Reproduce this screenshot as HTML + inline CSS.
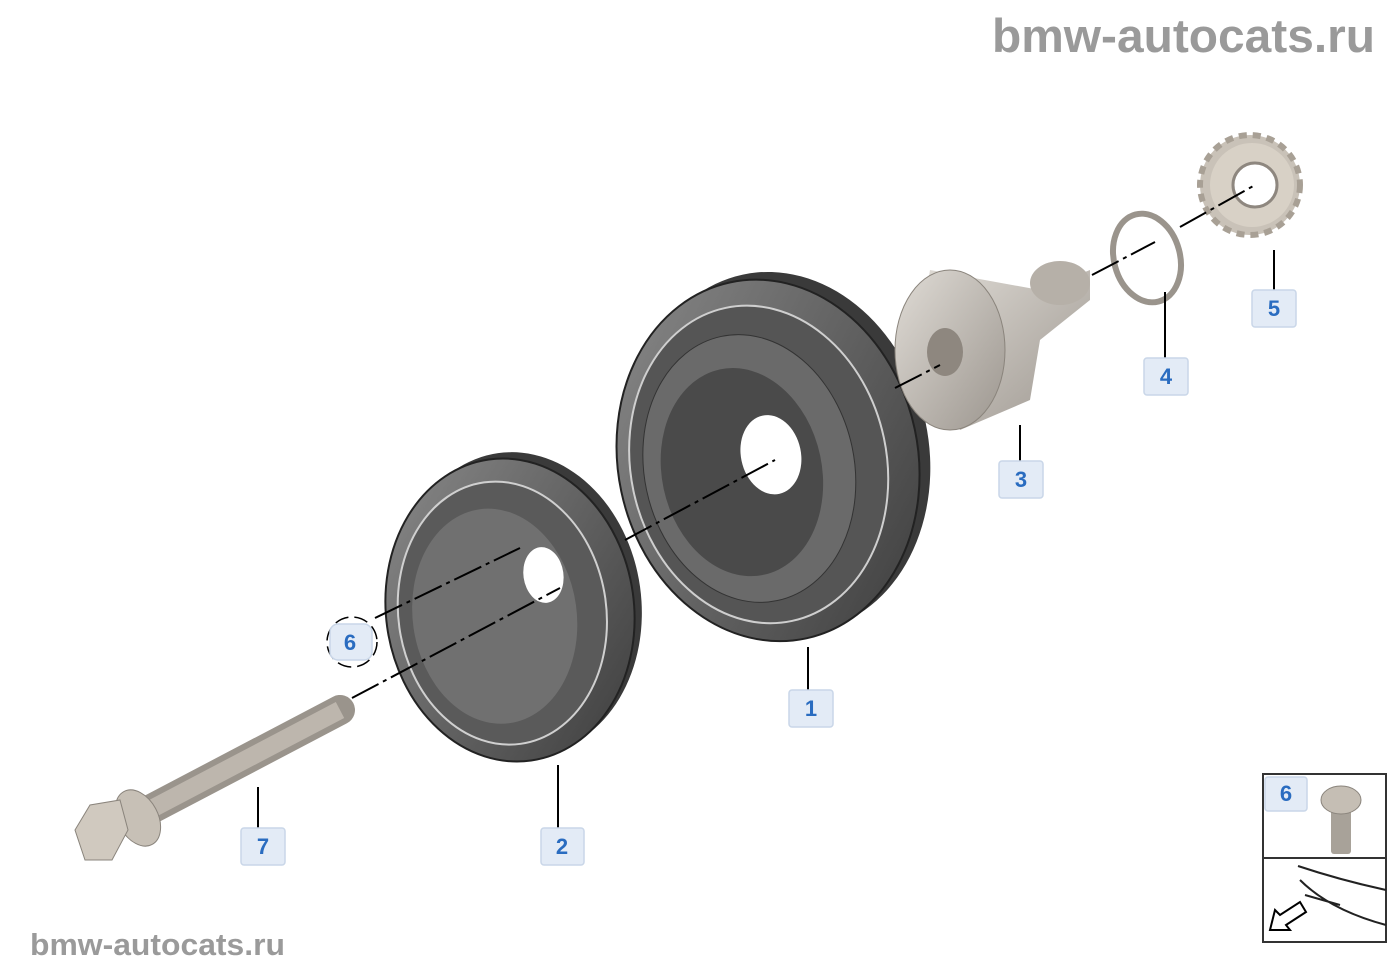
<!DOCTYPE html>
<html><head><meta charset="utf-8"><style>
html,body{margin:0;padding:0;background:#fff;width:1400px;height:980px;overflow:hidden}
svg{display:block}
.wm{font-family:"Liberation Sans",sans-serif;font-weight:bold;fill:#9a9a9a}
.lb{font-family:"Liberation Sans",sans-serif;font-weight:bold;fill:#2a6cc0;font-size:22px}
.box{fill:#e3ebf6;stroke:#c9d6e8;stroke-width:1.5}
</style></head><body>
<svg width="1400" height="980" viewBox="0 0 1400 980" xmlns="http://www.w3.org/2000/svg">
<defs>
<linearGradient id="g1" x1="0" y1="0" x2="1" y2="1"><stop offset="0" stop-color="#8a8a8a"/><stop offset="1" stop-color="#3c3c3c"/></linearGradient>
<linearGradient id="g2" x1="0" y1="0" x2="1" y2="1"><stop offset="0" stop-color="#e0dcd6"/><stop offset="1" stop-color="#9c968f"/></linearGradient>
</defs>
<text class="wm" x="992" y="52" font-size="47" textLength="383" lengthAdjust="spacingAndGlyphs">bmw-autocats.ru</text>
<text class="wm" x="30" y="955" font-size="31" textLength="255" lengthAdjust="spacingAndGlyphs">bmw-autocats.ru</text>

<!-- pulley 1 -->
<g transform="rotate(-12 770 460)">
<ellipse cx="782" cy="455" rx="148" ry="182" fill="#3a3a3a"/>
<ellipse cx="768" cy="460" rx="150" ry="182" fill="url(#g1)" stroke="#222" stroke-width="2"/>
<ellipse cx="758" cy="462" rx="128" ry="160" fill="#555" stroke="#cfcfcf" stroke-width="2"/>
<ellipse cx="748" cy="464" rx="105" ry="135" fill="#6a6a6a" stroke="#333"/>
<ellipse cx="740" cy="466" rx="80" ry="105" fill="#4a4a4a"/>
<ellipse cx="772" cy="455" rx="30" ry="40" fill="#fff"/>
</g>
<!-- pulley 2 -->
<g transform="rotate(-8 510 610)">
<ellipse cx="520" cy="605" rx="122" ry="152" fill="#3a3a3a"/>
<ellipse cx="510" cy="610" rx="124" ry="152" fill="url(#g1)" stroke="#222" stroke-width="2"/>
<ellipse cx="502" cy="612" rx="104" ry="132" fill="#5a5a5a" stroke="#d0d0d0" stroke-width="2"/>
<ellipse cx="494" cy="614" rx="82" ry="108" fill="#707070"/>
<ellipse cx="548" cy="580" rx="20" ry="28" fill="#fff"/>
</g>
<!-- hub 3 -->
<polygon points="930,270 1040,290 1090,270 1090,300 1040,340 1030,400 960,430 920,330" fill="url(#g2)"/>
<ellipse cx="1060" cy="283" rx="30" ry="22" fill="#b6b0a8"/>
<ellipse cx="950" cy="350" rx="55" ry="80" fill="url(#g2)" stroke="#8a847c"/>
<ellipse cx="945" cy="352" rx="18" ry="24" fill="#8e877f"/>
<!-- ring 4 -->
<ellipse cx="1147" cy="258" rx="33" ry="45" transform="rotate(-15 1147 258)" fill="none" stroke="#9a948c" stroke-width="6"/>
<!-- sprocket 5 -->
<circle cx="1250" cy="185" r="50" fill="#c9c2b8" stroke="#a8a095" stroke-width="6" stroke-dasharray="8 6"/>
<circle cx="1252" cy="185" r="42" fill="#d8d1c6"/>
<circle cx="1255" cy="185" r="22" fill="#fff" stroke="#8e877f" stroke-width="3"/>
<!-- bolt 7 -->
<line x1="140" y1="815" x2="340" y2="710" stroke="#9a948c" stroke-width="30" stroke-linecap="round"/>
<line x1="140" y1="815" x2="340" y2="710" stroke="#bdb6ad" stroke-width="18"/>
<ellipse cx="138" cy="818" rx="20" ry="30" transform="rotate(-28 138 818)" fill="#c7c0b6" stroke="#8a847c"/>
<polygon points="75,830 90,805 120,800 128,830 112,860 85,860" fill="#d0c9bf" stroke="#8a847c"/>
<!-- axis lines -->
<g stroke="#000" stroke-width="2" stroke-dasharray="30 5 4 5" fill="none">
<line x1="352" y1="698" x2="560" y2="588"/>
<line x1="375" y1="618" x2="520" y2="548"/>
<line x1="625" y1="540" x2="775" y2="460"/>
<line x1="895" y1="388" x2="940" y2="365"/>
<line x1="1092" y1="275" x2="1155" y2="242"/>
<line x1="1180" y1="227" x2="1255" y2="185"/>
</g>
<!-- leaders -->
<g stroke="#000" stroke-width="2">
<line x1="808" y1="647" x2="808" y2="690"/>
<line x1="558" y1="765" x2="558" y2="828"/>
<line x1="1020" y1="425" x2="1020" y2="461"/>
<line x1="1165" y1="292" x2="1165" y2="358"/>
<line x1="1274" y1="250" x2="1274" y2="290"/>
<line x1="258" y1="787" x2="258" y2="828"/>
</g>
<rect class="box" x="789" y="690" width="44" height="37" rx="3"/><text class="lb" x="811" y="716" text-anchor="middle">1</text>
<rect class="box" x="541" y="828" width="43" height="37" rx="3"/><text class="lb" x="562" y="854" text-anchor="middle">2</text>
<rect class="box" x="999" y="461" width="44" height="37" rx="3"/><text class="lb" x="1021" y="487" text-anchor="middle">3</text>
<rect class="box" x="1144" y="358" width="44" height="37" rx="3"/><text class="lb" x="1166" y="384" text-anchor="middle">4</text>
<rect class="box" x="1252" y="290" width="44" height="37" rx="3"/><text class="lb" x="1274" y="316" text-anchor="middle">5</text>
<rect class="box" x="241" y="828" width="44" height="37" rx="3"/><text class="lb" x="263" y="854" text-anchor="middle">7</text>
<circle cx="352" cy="642" r="25" fill="#fff" stroke="#000" stroke-width="1.5" stroke-dasharray="14 6"/>
<rect class="box" x="330" y="624" width="42" height="36" rx="8"/><text class="lb" x="350" y="650" text-anchor="middle">6</text>
<!-- inset -->
<rect x="1263" y="774" width="123" height="168" fill="#fff" stroke="#333" stroke-width="2"/>
<line x1="1263" y1="858" x2="1386" y2="858" stroke="#333" stroke-width="2"/>
<rect class="box" x="1265" y="777" width="42" height="34" rx="3"/><text class="lb" x="1286" y="801" text-anchor="middle">6</text>
<rect x="1331" y="808" width="20" height="46" rx="3" fill="#a8a299"/>
<ellipse cx="1341" cy="800" rx="20" ry="14" fill="#c5beb4" stroke="#8a847c"/>
<path d="M1298 866 Q1340 880 1386 890 M1300 880 Q1330 910 1386 925 M1305 895 L1340 905" stroke="#222" stroke-width="2" fill="none"/>
<polygon points="1270,930 1275,910 1280,915 1300,902 1306,912 1286,925 1290,930" fill="#fff" stroke="#000" stroke-width="2"/>
</svg>
</body></html>
